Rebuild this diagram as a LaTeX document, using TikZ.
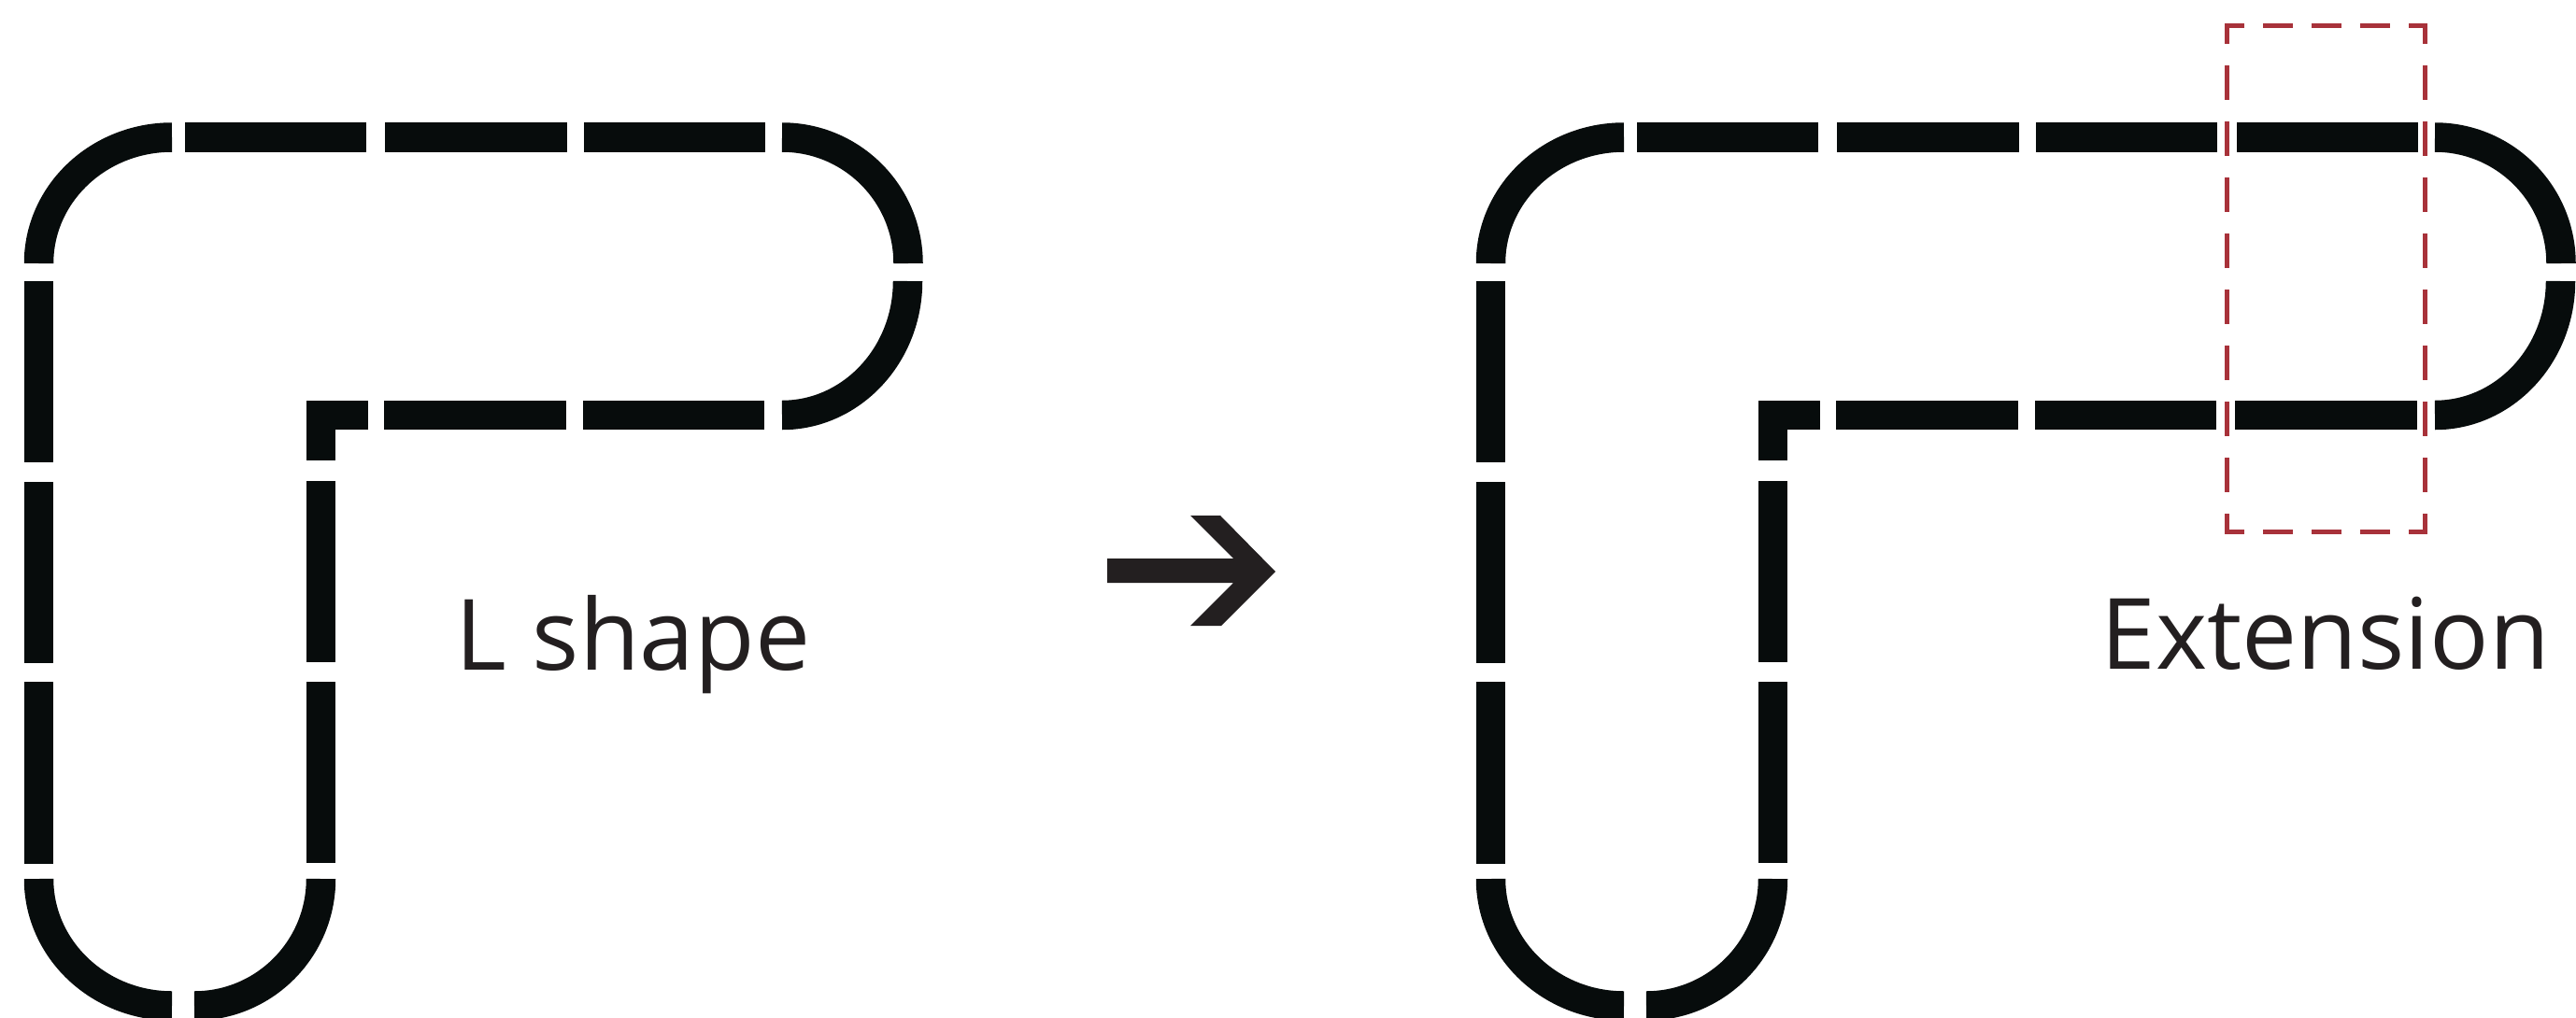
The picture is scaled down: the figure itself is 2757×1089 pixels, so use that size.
\documentclass[tikz,border=0pt]{standalone}
\usepackage{fontspec}
\setmainfont{Open Sans}
\usepackage{tikz}
\usetikzlibrary{calc}
\definecolor{pipeblack}{HTML}{070C0C}
\definecolor{markred}{HTML}{A8323A}
\definecolor{inkgray}{HTML}{231F20}

\begin{document}
\begin{tikzpicture}[
    x=0.1mm, y=0.1mm,
    pipe/.style={draw=pipeblack, line width=3.15mm, line cap=butt, line join=miter},
    caption/.style={text=inkgray, font=\fontsize{30}{36}\selectfont, inner sep=0pt, anchor=base west},
    hmark/.style={draw=markred, line width=0.5mm, line cap=rect,
                  dash pattern=on 2.75mm off 2.45mm, dash phase=1.15mm},
    vmark/.style={draw=markred, line width=0.5mm, line cap=rect,
                  dash pattern=on 3.2mm off 2.8mm, dash phase=1.55mm}
]
    \useasboundingbox (0,0) rectangle (2757,1089);

    % L shape (before)
    \draw[pipe] (41.5,807) arc[start angle=180, end angle=90, x radius=142.5, y radius=135];
    \draw[pipe] (198,942) -- (392,942);
    \draw[pipe] (412,942) -- (607,942);
    \draw[pipe] (625,942) -- (819,942);
    \draw[pipe] (837,942) arc[start angle=90, end angle=0, radius=135];
    \draw[pipe] (971.5,788) arc[start angle=0, end angle=-90, x radius=134.5, y radius=143.5];
    \draw[pipe] (624,644.5) -- (818,644.5);
    \draw[pipe] (411,644.5) -- (606,644.5);
    \draw[pipe] (394,644.5) -- (343.5,644.5) -- (343.5,596);
    \draw[pipe] (343.5,574) -- (343.5,380);
    \draw[pipe] (343.5,359) -- (343.5,165);
    \draw[pipe] (343.5,148) arc[start angle=0, end angle=-90, x radius=135.5, y radius=136];
    \draw[pipe] (41.5,148) arc[start angle=180, end angle=270, x radius=142.5, y radius=136];
    \draw[pipe] (41.5,788) -- (41.5,594);
    \draw[pipe] (41.5,573) -- (41.5,379);
    \draw[pipe] (41.5,359) -- (41.5,164);
    \node[caption] (lshape) at (487,372) {L shape};

    % Arrow
    \coordinate (arrowtail) at (1185,478);
    \fill[inkgray] (arrowtail) ++(0,13) -- ++(135,0) -- ++(-46,46) -- ++(32,0)
        -- ++(59,-60) -- ++(-58,-58) -- ++(-33,0) -- ++(46,46) -- ++(-135,0) -- cycle;

    % Extension (after)
    \begin{scope}[xshift=155.4mm]
        \draw[pipe] (41.5,807) arc[start angle=180, end angle=90, x radius=142.5, y radius=135];
        \draw[pipe] (198,942) -- (392,942);
        \draw[pipe] (412,942) -- (607,942);
        \draw[pipe] (625,942) -- (819,942);
        \draw[pipe] (840,942) -- (1034,942);
        \draw[pipe] (1052,942) arc[start angle=90, end angle=0, radius=135];
        \draw[pipe] (1186.5,788) arc[start angle=0, end angle=-90, x radius=134.5, y radius=143.5];
        \draw[pipe] (838,644.5) -- (1033,644.5);
        \draw[pipe] (624,644.5) -- (818,644.5);
        \draw[pipe] (411,644.5) -- (606,644.5);
        \draw[pipe] (394,644.5) -- (343.5,644.5) -- (343.5,596);
        \draw[pipe] (343.5,574) -- (343.5,380);
        \draw[pipe] (343.5,359) -- (343.5,165);
        \draw[pipe] (343.5,148) arc[start angle=0, end angle=-90, x radius=135.5, y radius=136];
        \draw[pipe] (41.5,148) arc[start angle=180, end angle=270, x radius=142.5, y radius=136];
        \draw[pipe] (41.5,788) -- (41.5,594);
        \draw[pipe] (41.5,573) -- (41.5,379);
        \draw[pipe] (41.5,359) -- (41.5,164);
        \node[caption] (extension) at (694,373) {Extension};

        % added piece
        \draw[hmark] (829.5,1061) -- (1041.5,1061);
        \draw[hmark] (829.5,520) -- (1041.5,520);
        \draw[vmark] (829.5,1061) -- (829.5,520);
        \draw[vmark] (1041.5,1061) -- (1041.5,520);
    \end{scope}
\end{tikzpicture}
\end{document}
